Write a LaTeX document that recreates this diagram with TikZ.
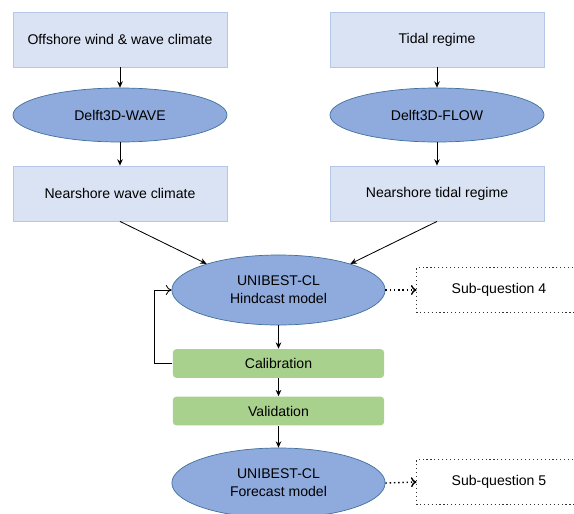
\documentclass[tikz,border=0pt]{standalone}
\usepackage{fontspec}
\setmainfont{Liberation Sans}
\usetikzlibrary{shapes.geometric,arrows.meta}

\definecolor{inbox}{HTML}{DAE3F3}
\definecolor{inline}{HTML}{B4C7E7}
\definecolor{model}{HTML}{8FAADC}
\definecolor{modelline}{HTML}{41719C}
\definecolor{step}{HTML}{A9D18E}

\begin{document}
\begin{tikzpicture}[x=0.025cm,y=-0.025cm,
  font=\fontsize{10}{13}\selectfont,line width=0.6pt,
  >={Stealth[length=4.5pt,width=4pt]},
  data/.style={draw=inline,fill=inbox,align=center,
               minimum width=5.35cm,minimum height=1.375cm,inner sep=0pt},
  mdl/.style={ellipse,draw=modelline,line width=0.5pt,fill=model,align=center,
              minimum width=5.35cm,minimum height=1.35cm,inner sep=0pt},
  wide/.style={mdl,minimum width=5.33cm,minimum height=1.75cm},
  stepbox/.style={fill=step,rounded corners=2.5pt,align=center,
                  minimum width=5.28cm,minimum height=0.72cm,inner sep=0pt},
  sq/.style={minimum width=4.1cm,minimum height=1.1cm,inner sep=0pt},
  sqline/.style={draw=black!80,dotted,line width=0.8pt}]
  \useasboundingbox (0,0) rectangle (574,514);
  % wave chain
  \node[data] (wclim) at (120,39.5) {Offshore wind \& wave climate};
  \node[mdl]  (wave)  at (120,115)  {Delft3D-WAVE};
  \node[data] (wnear) at (120,193.5) {Nearshore wave climate};
  % tide chain
  \node[data] (tide)  at (437,39.5) {Tidal regime};
  \node[mdl]  (flow)  at (437,115)  {Delft3D-FLOW};
  \node[data] (tnear) at (437,193.5) {Nearshore tidal regime};
  % coastline model
  \node[wide]    (hind) at (278.5,290)   {UNIBEST-CL\\ Hindcast model};
  \node[stepbox] (cal)  at (278.5,363.5) {Calibration};
  \node[stepbox] (val)  at (278.5,411)   {Validation};
  \node[wide]    (fore) at (278.5,483)   {UNIBEST-CL\\ Forecast model};
  \node[sq] (sq4) at (499,290) {Sub-question 4};
  \node[sq] (sq5) at (499,482) {Sub-question 5};
  % open-ended dotted frames, they run off the right side
  \foreach \q in {sq4,sq5}
    \draw[sqline] ([xshift=200*0.025cm]\q.north west) -- (\q.north west)
                  -- (\q.south west) -- ++(200,0);
  \draw[->] (wclim) -- (wave);
  \draw[->] (wave) -- (wnear);
  \draw[->] (tide) -- (flow);
  \draw[->] (flow) -- (tnear);
  \draw[->] (wnear.south) -- (hind.160);
  \draw[->] (tnear.south) -- (hind.20);
  \draw[->] (hind) -- (cal);
  \draw[->] (cal) -- (val);
  \draw[->] (val) -- (fore);
  \draw[-{To[length=4pt,width=7pt]}] (cal.west) -- ++(-18,0) |- (hind.west);
  \draw[dotted,line width=1pt,-{To[length=4pt,width=7pt]}] (hind.east) -- (sq4.west);
  \draw[dotted,line width=1pt,-{To[length=4pt,width=7pt]}] (fore.east) -- (sq5.west);
\end{tikzpicture}
\end{document}
